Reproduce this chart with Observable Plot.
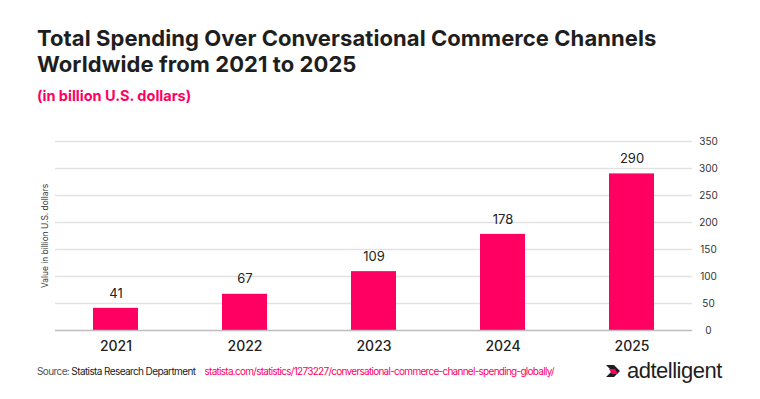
<!DOCTYPE html>
<html>
<head>
<meta charset="utf-8">
<script src="https://cdn.jsdelivr.net/npm/d3@7"></script>
<script src="https://cdn.jsdelivr.net/npm/@observablehq/plot@0.6"></script>
<style>
  html, body { margin: 0; padding: 0; background: #fff; }
  body { width: 760px; height: 399px; position: relative; overflow: hidden; font-family: Inter, "Liberation Sans", sans-serif; }
  #title { position: absolute; left: 37px; top: 25px; font-size: 22px; font-weight: 700; line-height: 26px; color: #1e1e1e; letter-spacing: 0.07px; white-space: nowrap; }
  #subtitle { position: absolute; left: 37px; top: 87px; font-size: 14.5px; font-weight: 700; color: #ff0062; letter-spacing: 0; }
  #chart { position: absolute; left: 0; top: 130px; }
  #source { position: absolute; left: 37px; top: 365px; font-size: 10px; color: #222; letter-spacing: -0.6px; white-space: nowrap; }
  #source .grey { color: #555; }
  #source .link { color: #ff0062; margin-left: 9px; letter-spacing: -0.72px; }
  #logo { position: absolute; left: 606px; top: 358px; display: flex; align-items: center; }
  #logo span { font-family: "Liberation Sans", sans-serif; font-size: 22px; color: #1e1e1e; letter-spacing: -0.5px; margin-left: 4px; }
</style>
</head>
<body>
<div id="title">Total Spending Over Conversational Commerce Channels<br>Worldwide from 2021 to 2025</div>
<div id="subtitle">(in billion U.S. dollars)</div>
<div id="chart"></div>
<div id="source"><span class="grey">Source:</span> Statista Research Department<span class="link">statista.com/statistics/1273227/conversational-commerce-channel-spending-globally/</span></div>
<div id="logo">
  <svg width="17" height="16" viewBox="0 0 17 16">
    <polygon points="0,2 8,2 14,8 8,14 0,14 6,8" fill="#1e1e1e"/>
    <polygon points="3,6 9,6 12,11 6,11" fill="#ff0062"/>
  </svg>
  <span>adtelligent</span>
</div>
<script>
const years = ["2021", "2022", "2023", "2024", "2025"];
const values = [41, 67, 109, 178, 290];
const yTicks = [0, 50, 100, 150, 200, 250, 300, 350];
const yLabel = "Value in billion U.S. dollars";

const data = years.map((y, i) => ({year: y, value: values[i]}));
const pink = "#ff0062";

const chart = Plot.plot({
  width: 760,
  height: 230,
  marginLeft: 50,
  marginRight: 63,
  marginTop: 11,
  marginBottom: 30,
  x: {domain: years, padding: 0, axis: null},
  y: {domain: [0, 350], axis: null},
  style: {fontFamily: "Inter, 'Liberation Sans', Arial, sans-serif", background: "#fff"},
  marks: [
    Plot.ruleY(yTicks.filter(d => d > 0), {y: d => d, stroke: "#e2e2e2", strokeWidth: 1.5, insetLeft: 5, insetRight: 5}),
    Plot.barY(data, {x: "year", y: "value", fill: pink, insetLeft: 42, insetRight: 42}),
    Plot.ruleY([0], {stroke: "#bdbdbd", strokeWidth: 1.5, insetLeft: 5, insetRight: 5}),
    Plot.text(data, {x: "year", y: "value", text: d => String(d.value), dy: -15, fontSize: 13, fill: "#222"}),
    Plot.text(data, {x: "year", y: 0, text: "year", dy: 16, fontSize: 14, fontWeight: 500, fill: "#222"}),
    Plot.text(yTicks, {y: d => d, text: d => String(d), frameAnchor: "right", dx: 11, textAnchor: "middle", fontSize: 10, fill: "#333"}),
    Plot.text([yLabel], {frameAnchor: "left", dx: -5, rotate: -90, textAnchor: "middle", fontSize: 8.4, fill: "#333"})
  ]
});
document.getElementById("chart").appendChild(chart);
</script>
</body>
</html>
